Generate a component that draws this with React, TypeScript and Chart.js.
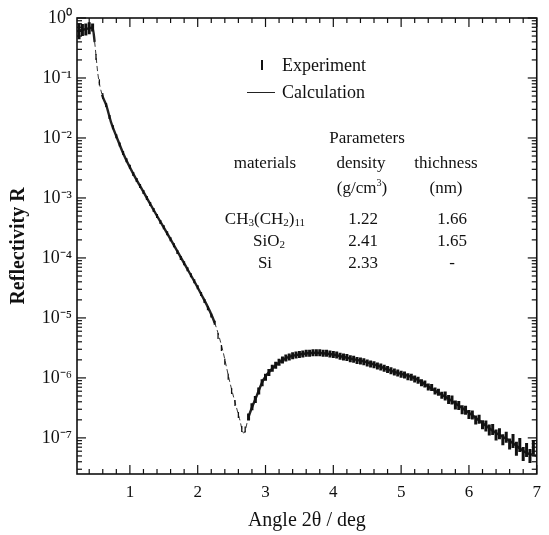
import React, { useEffect, useRef } from 'react';
import { Chart, registerables } from 'chart.js';

Chart.register(...registerables);

// ---- axis ranges / tick settings ----
const X_MIN = 0.22;
const X_MAX = 7;
const X_MINOR_STEP = 0.2;
const Y_MIN = 2.5e-8;
const Y_MAX = 1;

// ---- Experiment: angle (deg) and log10(R) ----
const EXP_ANGLE = [
  0.25, 0.3, 0.35, 0.4, 0.45, 0.5, 0.55, 0.6, 0.65, 0.7, 0.75, 0.8, 0.85, 0.9, 0.95,
  1.0, 1.05, 1.1, 1.15, 1.2, 1.25, 1.3, 1.35, 1.4, 1.45, 1.5, 1.55, 1.6, 1.65, 1.7, 1.75, 1.8, 1.85, 1.9, 1.95,
  2.0, 2.05, 2.1, 2.15, 2.2, 2.25, 2.3, 2.35, 2.4, 2.45, 2.5, 2.55, 2.6, 2.65, 2.7, 2.75, 2.8, 2.85, 2.9, 2.95,
  3.0, 3.05, 3.1, 3.15, 3.2, 3.25, 3.3, 3.35, 3.4, 3.45, 3.5, 3.55, 3.6, 3.65, 3.7, 3.75, 3.8, 3.85, 3.9, 3.95,
  4.0, 4.05, 4.1, 4.15, 4.2, 4.25, 4.3, 4.35, 4.4, 4.45, 4.5, 4.55, 4.6, 4.65, 4.7, 4.75, 4.8, 4.85, 4.9, 4.95,
  5.0, 5.05, 5.1, 5.15, 5.2, 5.25, 5.3, 5.35, 5.4, 5.45, 5.5, 5.55, 5.6, 5.65, 5.7, 5.75, 5.8, 5.85, 5.9, 5.95,
  6.0, 6.05, 6.1, 6.15, 6.2, 6.25, 6.3, 6.35, 6.4, 6.45, 6.5, 6.55, 6.6, 6.65, 6.7, 6.75, 6.8, 6.85, 6.9, 6.95,
];
const EXP_LOG_R = [
  -0.22, -0.2, -0.19, -0.17, -0.16, -0.65, -1.07, -1.3, -1.45, -1.65, -1.82, -1.97, -2.11, -2.25, -2.37,
  -2.48, -2.6, -2.7, -2.8, -2.9, -3.0, -3.1, -3.2, -3.3, -3.4, -3.49, -3.59, -3.69, -3.79, -3.9, -4.0, -4.09, -4.19, -4.29, -4.39,
  -4.49, -4.6, -4.72, -4.84, -4.96, -5.08, -5.3, -5.5, -5.73, -5.98, -6.22, -6.42, -6.62, -6.85, -6.86, -6.65, -6.48, -6.36, -6.22, -6.08,
  -5.99, -5.91, -5.84, -5.79, -5.74, -5.7, -5.67, -5.65, -5.63, -5.62, -5.61, -5.6, -5.59, -5.59, -5.58, -5.58, -5.58, -5.59, -5.59, -5.6,
  -5.61, -5.62, -5.64, -5.65, -5.66, -5.68, -5.69, -5.71, -5.72, -5.73, -5.75, -5.77, -5.78, -5.8, -5.82, -5.84, -5.86, -5.88, -5.9, -5.92,
  -5.94, -5.95, -5.98, -5.99, -6.02, -6.04, -6.08, -6.1, -6.15, -6.16, -6.22, -6.24, -6.29, -6.3, -6.36, -6.37, -6.45, -6.46, -6.53, -6.54,
  -6.61, -6.62, -6.7, -6.69, -6.78, -6.8, -6.87, -6.86, -6.95, -6.93, -7.03, -6.99, -7.1, -7.05, -7.18, -7.12, -7.27, -7.2, -7.3, -7.15,
];

// ---- Calculation: angle (deg) and log10(R) ----
const CALC_ANGLE = [
  0.22, 0.3, 0.4, 0.45, 0.48, 0.53, 0.59, 0.65, 0.72, 0.81, 0.91, 1.06, 1.2, 1.39, 1.59, 1.78, 2.04, 2.25,
  2.36, 2.48, 2.61, 2.68, 2.75, 2.87, 2.97, 3.12, 3.3, 3.49, 3.74, 3.99, 4.22, 4.46, 4.61, 4.9, 5.19, 5.48,
  5.77, 6.06, 6.35, 6.64, 6.83, 7.0,
];
const CALC_LOG_R = [
  -0.22, -0.2, -0.17, -0.16, -0.4, -0.95, -1.28, -1.45, -1.73, -2.0, -2.28, -2.62, -2.9, -3.28, -3.67, -4.05, -4.58, -5.08,
  -5.5, -6.1, -6.65, -6.92, -6.65, -6.3, -6.03, -5.82, -5.67, -5.61, -5.58, -5.61, -5.67, -5.73, -5.78, -5.9, -6.0, -6.2,
  -6.4, -6.63, -6.88, -7.08, -7.24, -7.3,
];

// ---- parameter table ----
const PARAM_MATERIALS = ['CH3(CH2)11', 'SiO2', 'Si'];
const PARAM_DENSITY = ['1.22', '2.41', '2.33'];
const PARAM_THICKNESS = ['1.66', '1.65', '-'];

const SERIF = "'Liberation Serif', 'Times New Roman', Times, serif";

const SUP: Record<string, string> = {
  '0': '\u2070', '1': '\u00b9', '2': '\u00b2', '3': '\u00b3', '4': '\u2074',
  '5': '\u2075', '6': '\u2076', '7': '\u2077', '8': '\u2078', '9': '\u2079', '-': '\u207b',
};
const powLabel = (e: number) => '10' + String(e).split('').map((c) => SUP[c] || c).join('');

const framePlugin = {
  id: 'frameTicks',
  afterDatasetsDraw(chart: any) {
    const { ctx, chartArea } = chart;
    const { left, right, top, bottom } = chartArea;
    const xs = chart.scales.x;
    const ys = chart.scales.y;
    ctx.save();
    ctx.strokeStyle = '#111';
    ctx.lineWidth = 1.6;
    ctx.strokeRect(left, top, right - left, bottom - top);
    ctx.lineWidth = 1.2;
    const seg = (x1: number, y1: number, x2: number, y2: number) => {
      ctx.beginPath();
      ctx.moveTo(x1, y1);
      ctx.lineTo(x2, y2);
      ctx.stroke();
    };
    // x ticks (inward, bottom and top)
    const start = Math.ceil(xs.min / X_MINOR_STEP - 1e-9);
    for (let i = start; i * X_MINOR_STEP <= xs.max + 1e-9; i++) {
      const v = i * X_MINOR_STEP;
      const p = xs.getPixelForValue(v);
      const major = Math.abs(v - Math.round(v)) < 1e-6;
      const len = major ? 9 : 5;
      seg(p, bottom, p, bottom - len);
      seg(p, top, p, top + len);
    }
    // y ticks (inward, left and right)
    const eMin = Math.floor(Math.log10(ys.min));
    const eMax = Math.ceil(Math.log10(ys.max));
    for (let e = eMin; e <= eMax; e++) {
      for (let m = 1; m <= 9; m++) {
        const v = m * Math.pow(10, e);
        if (v < ys.min * 0.999 || v > ys.max * 1.001) continue;
        const p = ys.getPixelForValue(v);
        const len = m === 1 ? 9 : 5;
        seg(left, p, left + len, p);
        seg(right, p, right - len, p);
      }
    }
    ctx.restore();
  },
};

const T = ({ x, y, children, align = 'center', size = 17 }: any) => (
  <div
    style={{
      position: 'absolute',
      left: x,
      top: y,
      transform: align === 'center' ? 'translate(-50%, -50%)' : 'translate(0, -50%)',
      whiteSpace: 'nowrap',
      lineHeight: 1,
      fontFamily: SERIF,
      fontSize: size,
      color: '#111',
    }}
  >
    {children}
  </div>
);

const subStyle = { fontSize: '0.65em', verticalAlign: '-0.25em', lineHeight: 0 } as any;
const supStyle = { fontSize: '0.6em', verticalAlign: '0.6em', lineHeight: 0 } as any;

const renderMaterial = (m: string) => {
  if (m === 'CH3(CH2)11') {
    return (
      <span>
        CH<span style={subStyle}>3</span>(CH<span style={subStyle}>2</span>)<span style={subStyle}>11</span>
      </span>
    );
  }
  if (m === 'SiO2') {
    return (
      <span>
        SiO<span style={subStyle}>2</span>
      </span>
    );
  }
  return <span>{m}</span>;
};

export default function App() {
  const canvasRef = useRef<HTMLCanvasElement | null>(null);

  useEffect(() => {
    document.body.style.margin = '0';
    const canvas = canvasRef.current;
    if (!canvas) return;

    const expData = EXP_ANGLE.map((a, i) => ({ x: a, y: Math.pow(10, EXP_LOG_R[i]) }));
    const calcData = CALC_ANGLE.map((a, i) => ({ x: a, y: Math.pow(10, CALC_LOG_R[i]) }));

    const steep = (x: number) => (x > 0.47 && x < 0.62) || (x > 2.27 && x < 2.73);

    const errRadius = (ctx: any) => {
      const x = ctx.raw ? ctx.raw.x : 1;
      if (x < 0.3) return 8;
      if (x < 0.42) return 6;
      if (x < 0.47) return 4;
      if (x > 6.6) return 7;
      if (x > 6.2) return 5.5;
      if (x > 5.6) return 4.5;
      if (steep(x)) return 3;
      if (x > 0.6 && x < 2.3) return 2;
      return 3.5;
    };
    const errWidth = (ctx: any) => {
      const x = ctx.raw ? ctx.raw.x : 1;
      if (steep(x)) return 1.3;
      if (x > 0.6 && x < 2.3) return 2;
      return 3;
    };
    const segSteep = (ctx: any) => {
      const xa = ctx.p0.parsed.x;
      const xb = ctx.p1.parsed.x;
      return steep((xa + xb) / 2);
    };

    const chart = new Chart(canvas, {
      type: 'scatter',
      data: {
        datasets: [
          {
            label: 'Experiment',
            data: expData,
            showLine: false,
            pointStyle: 'line',
            rotation: 90,
            pointRadius: errRadius,
            pointBorderWidth: errWidth,
            borderColor: '#111',
            backgroundColor: '#111',
            order: 1,
          } as any,
          {
            label: 'Calculation',
            data: calcData,
            showLine: true,
            borderColor: '#222',
            borderWidth: 2.2,
            pointRadius: 0,
            cubicInterpolationMode: 'monotone',
            segment: {
              borderWidth: (ctx: any) => (segSteep(ctx) ? 0.9 : 2.4),
              borderDash: (ctx: any) => (segSteep(ctx) ? [5, 3] : []),
            },
            order: 2,
          } as any,
        ],
      },
      options: {
        animation: false,
        responsive: false,
        maintainAspectRatio: false,
        layout: { padding: { top: 18, right: 4, left: 0, bottom: 0 } },
        plugins: {
          legend: { display: false },
          tooltip: { enabled: false },
        },
        scales: {
          x: {
            type: 'linear',
            min: X_MIN,
            max: X_MAX,
            grid: { display: false, drawTicks: false },
            border: { display: false },
            ticks: {
              stepSize: 1,
              includeBounds: false,
              padding: 8,
              color: '#111',
              font: { family: SERIF, size: 17 },
              maxRotation: 0,
              autoSkip: false,
            } as any,
            title: {
              display: true,
              text: 'Angle 2\u03b8 / deg',
              color: '#111',
              font: { family: SERIF, size: 20 },
              padding: { top: 0, bottom: 2 },
            },
            afterFit: (scale: any) => {
              scale.height = 61;
            },
          },
          y: {
            type: 'logarithmic',
            min: Y_MIN,
            max: Y_MAX,
            grid: { display: false, drawTicks: false },
            border: { display: false },
            ticks: {
              autoSkip: false,
              padding: 5,
              color: '#111',
              font: { family: SERIF, size: 18 },
              callback: (value: any) => {
                const v = Number(value);
                const e = Math.log10(v);
                const r = Math.round(e);
                return Math.abs(e - r) < 1e-6 ? powLabel(r) : '';
              },
            },
            title: {
              display: true,
              text: 'Reflectivity R',
              color: '#111',
              font: { family: SERIF, size: 20, weight: 'bold' },
              padding: { top: 7, bottom: 0 },
            },
            afterFit: (scale: any) => {
              scale.width = 77;
            },
          },
        },
      },
      plugins: [framePlugin],
    });

    return () => chart.destroy();
  }, []);

  const rowY = [218, 240, 262];
  const matX = [265, 269, 265];

  return (
    <div style={{ position: 'relative', width: 549, height: 535, background: '#fff' }}>
      <canvas ref={canvasRef} width={549} height={535} style={{ position: 'absolute', left: 0, top: 0, width: 549, height: 535 }} />
      {/* legend */}
      <div style={{ position: 'absolute', left: 261, top: 60, width: 1.5, height: 10, background: '#111' }} />
      <T x={282} y={65} align="left" size={18}>Experiment</T>
      <div style={{ position: 'absolute', left: 247, top: 92, width: 28, height: 1, background: '#222' }} />
      <T x={282} y={92} align="left" size={18}>Calculation</T>
      {/* parameter table */}
      <T x={367} y={137}>Parameters</T>
      <T x={265} y={162}>materials</T>
      <T x={361} y={162}>density</T>
      <T x={446} y={162}>thichness</T>
      <T x={362} y={187}>
        (g/cm<span style={supStyle}>3</span>)
      </T>
      <T x={446} y={187}>(nm)</T>
      {PARAM_MATERIALS.map((m, i) => (
        <T key={'m' + i} x={matX[i]} y={rowY[i]}>
          {renderMaterial(m)}
        </T>
      ))}
      {PARAM_DENSITY.map((d, i) => (
        <T key={'d' + i} x={363} y={rowY[i]}>
          {d}
        </T>
      ))}
      {PARAM_THICKNESS.map((t, i) => (
        <T key={'t' + i} x={452} y={rowY[i]}>
          {t}
        </T>
      ))}
    </div>
  );
}
